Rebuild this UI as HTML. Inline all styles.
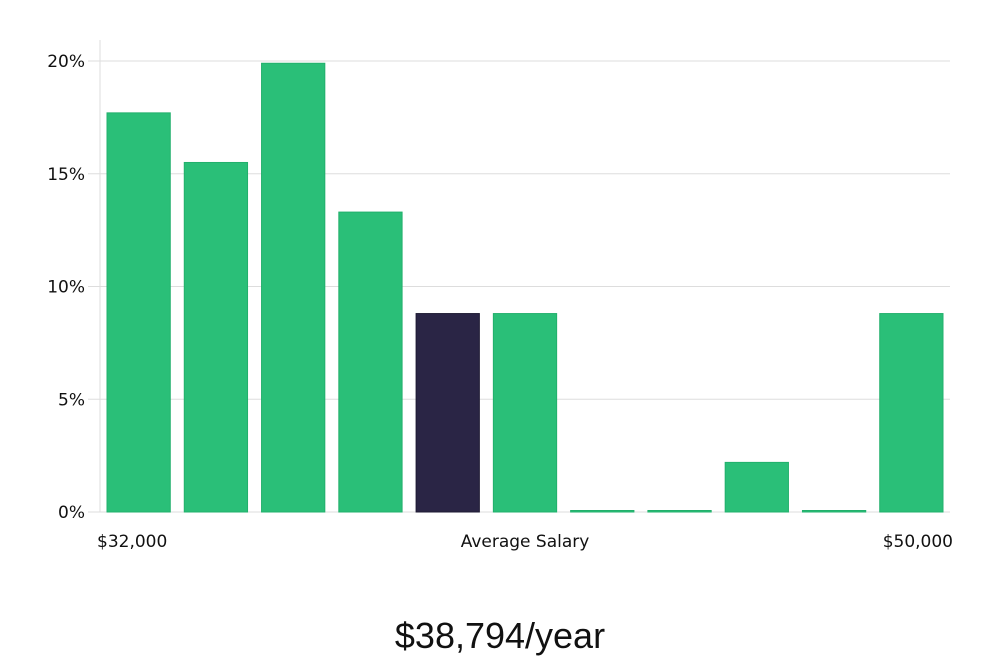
<!DOCTYPE html>
<html><head><meta charset="utf-8"><style>
html,body{margin:0;padding:0;background:#fff;}
svg text{font-family:"DejaVu Sans","Liberation Sans",sans-serif;fill:#111;}
</style></head><body>
<svg id="chart" width="1000" height="660" xmlns="http://www.w3.org/2000/svg">
<g id="grid"></g><g id="bars"></g><g id="labels"></g>
<text x="97" y="547" font-size="17">$32,000</text>
<text x="525" y="547" font-size="17" text-anchor="middle">Average Salary</text>
<text x="953" y="547" font-size="17" text-anchor="end">$50,000</text>
<text x="500" y="648" font-size="36" text-anchor="middle" style="font-family:'Liberation Sans',sans-serif;font-weight:300" fill="#111">$38,794/year</text>
</svg>
<script>
const values=[17.7,15.5,19.9,13.3,8.8,8.8,0,0,2.2,0,8.8];
const highlight=[false,false,false,false,true,false,false,false,false,false,false];
const ticks=[0,5,10,15,20];
const tickLabels=["0%","5%","10%","15%","20%"];
const X0=100,X1=950,Y0=512,Y20=61;
const ys=v=>Y0-(v/20)*(Y0-Y20);
const slot=(X1-X0)/values.length;
const NS="http://www.w3.org/2000/svg";
const grid=document.getElementById('grid'),bars=document.getElementById('bars'),labels=document.getElementById('labels');
function mk(tag,attrs,parent){const e=document.createElementNS(NS,tag);for(const k in attrs)e.setAttribute(k,attrs[k]);parent.appendChild(e);return e;}
const ax=mk('line',{x1:X0,x2:X0,y1:40,y2:Y0,stroke:'#ddd','stroke-width':1},grid);


ticks.forEach((t,i)=>{
 const y=ys(t);
 const g=mk('line',{x1:88,x2:X1,y1:y,y2:y,stroke:'#ddd','stroke-width':1},grid);
 
 
 const tx=mk('text',{x:85,y:y+6,'font-size':17,'text-anchor':'end'},labels);
 tx.textContent=tickLabels[i];
 
 
});
values.forEach((v,i)=>{
 const x=X0+slot*i+7,w=slot-14;
 const top=Math.min(ys(v),Y0-1.5);
 const r=mk('rect',{x:x,y:top,width:w,height:Y0-top,fill:highlight[i]?'#2a2545':'#2abf78',stroke:highlight[i]?'#1e1a33':'#22b06c','stroke-width':1},bars);
 
 
});
</script>
</body></html>
